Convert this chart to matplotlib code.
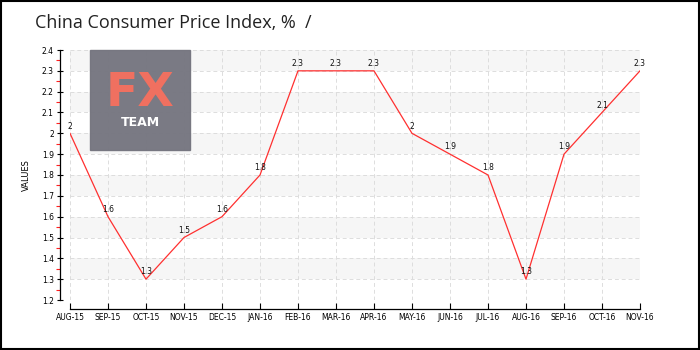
import numpy as np
import matplotlib
matplotlib.use("Agg")
import matplotlib.pyplot as plt
from matplotlib.patches import Rectangle

# ===== DATA =====
months = ["AUG-15", "SEP-15", "OCT-15", "NOV-15", "DEC-15", "JAN-16", "FEB-16", "MAR-16",
          "APR-16", "MAY-16", "JUN-16", "JUL-16", "AUG-16", "SEP-16", "OCT-16", "NOV-16"]
cpi = [2, 1.6, 1.3, 1.5, 1.6, 1.8, 2.3, 2.3, 2.3, 2, 1.9, 1.8, 1.3, 1.9, 2.1, 2.3]
y_ticks = [1.2, 1.3, 1.4, 1.5, 1.6, 1.7, 1.8, 1.9, 2, 2.1, 2.2, 2.3, 2.4]
# ================

fig = plt.figure(figsize=(7, 3.5), dpi=100)
ax = fig.add_axes([70 / 700, 1 - 300 / 350, 570 / 700, 250 / 350])

x = np.arange(len(months))

# bandes alternées
for lo in [1.3, 1.5, 1.7, 1.9, 2.1, 2.3]:
    ax.axhspan(lo, lo + 0.1, color="#f6f6f6", zorder=0, lw=0)

ax.plot(x, cpi, color="#ff3030", lw=0.9, zorder=3)
for xi, v in zip(x, cpi):
    ax.annotate(f"{v:g}", (xi, v), xytext=(0, 2), textcoords="offset points",
                ha="center", va="bottom", fontsize=5.5, color="#111111", zorder=4)

ax.set_xlim(0, len(months) - 1)
ax.set_ylim(1.2, 2.4)
ax.set_xticks(x)
ax.set_xticklabels(months)
ax.set_yticks(y_ticks)
ax.set_yticklabels([f"{t:g}" for t in y_ticks])
ax.set_yticks(np.arange(1.25, 2.4, 0.1), minor=True)

ax.grid(True, which="major", color="#dddddd", linestyle=(0, (4, 3)), lw=0.7, zorder=1)
ax.set_axisbelow(True)

for s in ["top", "right"]:
    ax.spines[s].set_visible(False)
ax.spines["left"].set_position(("outward", 7.2))
ax.spines["bottom"].set_position(("outward", 6.5))
ax.spines["left"].set_linewidth(0.9)
ax.spines["bottom"].set_linewidth(0.9)

ax.tick_params(axis="x", which="major", direction="in", length=4, width=0.8,
               labelsize=5.5, pad=3)
ax.tick_params(axis="y", which="major", direction="inout", length=5, width=0.8,
               labelsize=5.5, pad=2)
ax.tick_params(axis="y", which="minor", direction="out", length=3, width=0.8,
               color="#ff2020")

ax.set_ylabel("VALUES", fontsize=6, labelpad=8)

# logo
ax.add_patch(Rectangle((90 / 700, 1 - 150 / 350), 100 / 700, 100 / 350,
                       transform=fig.transFigure, color="#75757f", alpha=0.96,
                       zorder=2, clip_on=False))
fig.text(140 / 700, 1 - 93 / 350, "FX", color="#f07060", fontsize=34,
         fontweight="bold", ha="center", va="center", zorder=5)
fig.text(140 / 700, 1 - 122 / 350, "TEAM", color="white", fontsize=9,
         fontweight="bold", ha="center", va="center", zorder=5)

fig.text(35 / 700, 1 - 23 / 350, "China Consumer Price Index, %  /", fontsize=13,
         family="Open Sans", ha="left", va="center", color="#222222")

fig.patches.append(Rectangle((0.001, 0.002), 0.997, 0.995, transform=fig.transFigure,
                             fill=False, edgecolor="black", lw=1.5))

fig.savefig("out.png", dpi=100)
